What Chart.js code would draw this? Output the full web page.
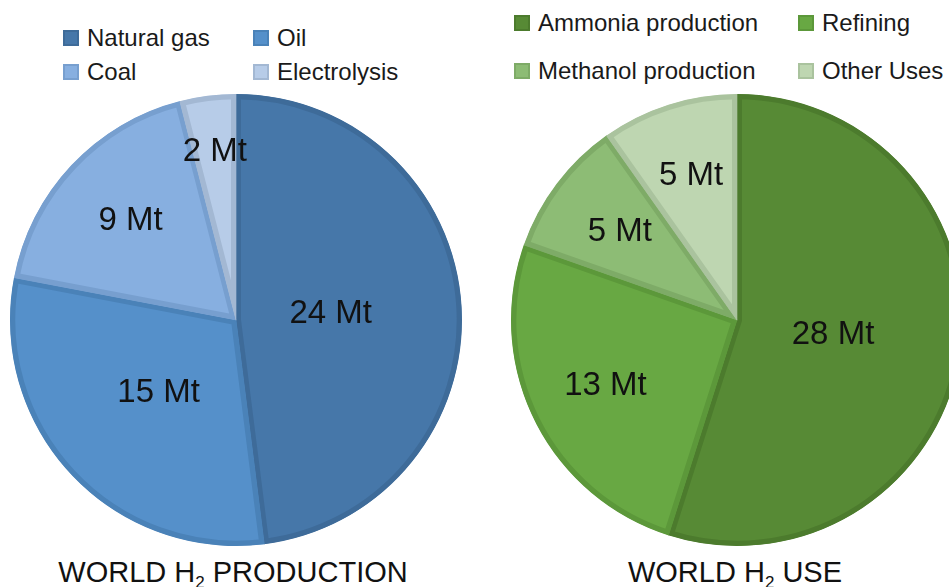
<!DOCTYPE html>
<html>
<head>
<meta charset="utf-8">
<script src="https://cdn.jsdelivr.net/npm/chart.js@4.4.1/dist/chart.umd.min.js"></script>
<style>
    html, body {
        margin: 0;
        padding: 0;
        width: 949px;
        height: 587px;
        overflow: hidden;
        background: #ffffff;
        font-family: 'Liberation Sans', Arial, sans-serif;
    }
    .pie-box {
        position: absolute;
        width: 460px;
        height: 460px;
    }
    .legend {
        position: absolute;
        display: grid;
        color: #1a1a1a;
        font-size: 24px;
    }
    .legend-item {
        display: flex;
        align-items: center;
        white-space: nowrap;
    }
    .legend-swatch {
        width: 12px;
        height: 12px;
        border: 2px solid;
        margin-right: 8px;
    }
    .caption {
        position: absolute;
        top: 556px;
        font-family: 'Liberation Sans Narrow', 'Liberation Sans', Arial, sans-serif;
        font-size: 29px;
        color: #111;
        white-space: nowrap;
        transform: translateX(-50%);
    }
    .caption sub {
        font-size: 17px;
        vertical-align: -6px;
        line-height: 0;
    }
</style>
</head>
<body>

<div class="legend" id="legend-prod" style="left:63px; top:21px; grid-template-columns:190px 190px; grid-auto-rows:34px;"></div>
<div class="legend" id="legend-use" style="left:514px; top:-1px; grid-template-columns:284px 200px; grid-auto-rows:48px;"></div>

<div class="pie-box" style="left:6px; top:90px;"><canvas id="prodChart"></canvas></div>
<div class="pie-box" style="left:507px; top:90px;"><canvas id="useChart"></canvas></div>

<div class="caption" style="left:233px;">WORLD H<sub>2</sub> PRODUCTION</div>
<div class="caption" style="left:735px;">WORLD H<sub>2</sub> USE</div>

<script>
// World hydrogen production by source (Mt per year)
const prodLabels = ['Natural gas', 'Oil', 'Coal', 'Electrolysis'];
const prodValues = [24, 15, 9, 2];

// World hydrogen use by sector (Mt per year)
const useLabels = ['Ammonia production', 'Refining', 'Methanol production', 'Other Uses'];
const useValues = [28, 13, 5, 5];

const prodFill = ['#4677a9', '#5590ca', '#87afe0', '#b7cce8'];
const prodEdge = ['#3e6b99', '#4a82b8', '#779fcf', '#a3b8d3'];
const useFill = ['#578a35', '#68a843', '#8dbc75', '#bed6b1'];
const useEdge = ['#4c7b2d', '#5c983a', '#7eab67', '#aac39e'];

// draws "<value> Mt" inside each slice, pushed out by a per-slice factor of the radius
const sliceLabels = {
    id: 'sliceLabels',
    afterDatasetsDraw(chart, args, opts) {
        const ctx = chart.ctx;
        const meta = chart.getDatasetMeta(0);
        const values = chart.data.datasets[0].data;
        ctx.save();
        ctx.font = '33px "Liberation Sans", Arial, sans-serif';
        ctx.fillStyle = '#111111';
        ctx.textAlign = 'center';
        ctx.textBaseline = 'middle';
        meta.data.forEach((arc, i) => {
            const p = arc.getProps(['x', 'y', 'startAngle', 'endAngle', 'outerRadius'], true);
            const mid = (p.startAngle + p.endAngle) / 2;
            const r = p.outerRadius * (opts.offsets[i] || 0.6);
            ctx.fillText(values[i] + ' Mt', p.x + Math.cos(mid) * r, p.y + Math.sin(mid) * r);
        });
        ctx.restore();
    }
};

function buildLegend(id, labels, fills, edges) {
    const el = document.getElementById(id);
    labels.forEach((label, i) => {
        const item = document.createElement('div');
        item.className = 'legend-item';
        item.innerHTML = `<span class="legend-swatch" style="background:${fills[i]};border-color:${edges[i]}"></span>${label}`;
        el.appendChild(item);
    });
}

function makePie(canvasId, labels, values, fills, edges, offsets) {
    return new Chart(document.getElementById(canvasId), {
        type: 'pie',
        data: {
            labels: labels,
            datasets: [{
                data: values,
                backgroundColor: fills,
                borderColor: edges,
                borderWidth: 5,
                borderAlign: 'inner'
            }]
        },
        options: {
            responsive: true,
            maintainAspectRatio: false,
            animation: false,
            radius: 226,
            layout: { padding: 0 },
            plugins: {
                legend: { display: false },
                tooltip: { enabled: false },
                sliceLabels: { offsets: offsets }
            }
        },
        plugins: [sliceLabels]
    });
}

buildLegend('legend-prod', prodLabels, prodFill, prodEdge);
buildLegend('legend-use', useLabels, useFill, useEdge);

makePie('prodChart', prodLabels, prodValues, prodFill, prodEdge, [0.42, 0.47, 0.64, 0.75]);
makePie('useChart', useLabels, useValues, useFill, useEdge, [0.43, 0.65, 0.65, 0.67]);
</script>
</body>
</html>
